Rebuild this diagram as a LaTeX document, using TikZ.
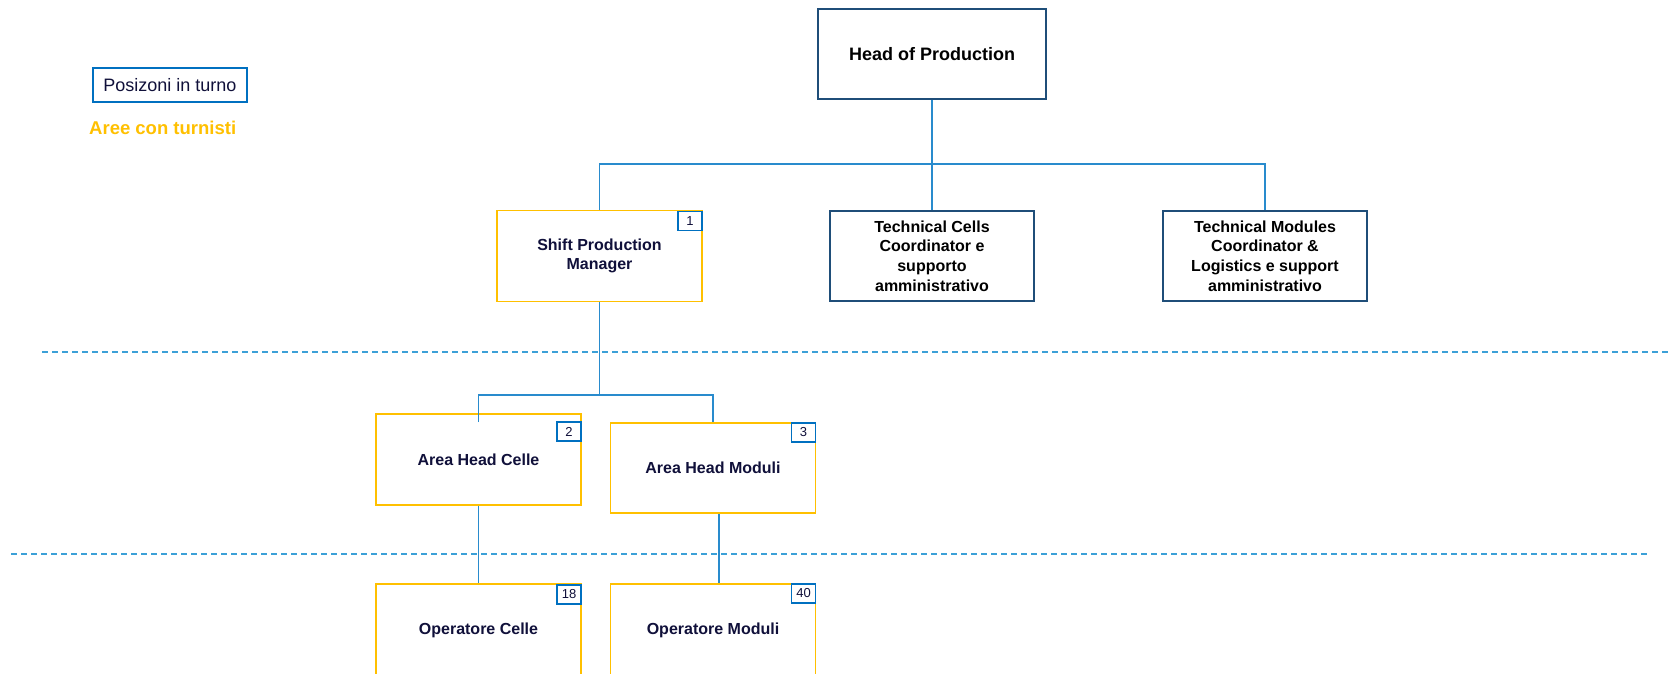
\documentclass[tikz,border=0pt]{standalone}
\usepackage{fontspec}
\setmainfont{Liberation Sans}
\definecolor{linkblue}{RGB}{41,139,205}
\definecolor{dashblue}{RGB}{60,160,215}
\definecolor{frameblue}{RGB}{31,78,121}
\definecolor{badgeblue}{RGB}{0,112,192}
\definecolor{shiftorange}{RGB}{255,192,0}
\definecolor{navytext}{RGB}{16,16,58}
\tikzset{
  mgrbox/.style={draw=frameblue, line width=1.8pt, fill=white, inner sep=0pt,
    minimum width=204pt, minimum height=90pt, align=center, text=black,
    font=\fontsize{16}{19.6}\selectfont\bfseries},
  shiftbox/.style={draw=shiftorange, line width=1.8pt, fill=white, inner sep=0pt,
    minimum width=205pt, minimum height=91pt, align=center, text=navytext,
    font=\fontsize{16}{19.4}\selectfont\bfseries},
  badge/.style={draw=badgeblue, line width=1.8pt, fill=white, inner sep=0pt,
    minimum width=24pt, minimum height=19pt, anchor=north east, text=navytext,
    font=\fontsize{13}{15}\selectfont},
  link/.style={draw=linkblue, line width=1.8pt},
  dashline/.style={draw=dashblue, line width=1.6pt, dash pattern=on 6pt off 4pt}
}
\begin{document}
\begin{tikzpicture}[x=1pt,y=-1pt]
\clip (0,0) rectangle (1670,674);
\fill[white] (0,0) rectangle (1670,674);

% legend
\node[draw=badgeblue, line width=1.6pt, inner sep=0pt, minimum width=154pt, minimum height=34pt,
  text=navytext, font=\fontsize{18}{20}\selectfont] (legend) at (170,85) {Posizoni in turno};
\node[anchor=base west, inner sep=0pt, text=shiftorange, font=\fontsize{18.5}{20}\selectfont\bfseries]
  (areelbl) at (89,135) {Aree con turnisti};

% dashed separators
\coordinate (d1a) at (42,352);
\coordinate (d1b) at (1670,352);
\coordinate (d2a) at (11,554);
\coordinate (d2b) at (1650,554);
\draw[dashline] (d1a) -- (d1b);
\draw[dashline] (d2a) -- (d2b);

% level 0
\node[mgrbox, minimum width=228pt, font=\fontsize{18}{21}\selectfont\bfseries] (hop) at (932,54) {Head of Production};

% level 1
\node[shiftbox] (spm) at (599.5,256) {Shift Production\\Manager};
\node[mgrbox] (tcc) at (932,256) {Technical Cells\\Coordinator e\\supporto\\amministrativo};
\node[mgrbox] (tmc) at (1265,256) {Technical Modules\\Coordinator \&\\Logistics e support\\amministrativo};

% level 2
\node[shiftbox, minimum height=91pt] (ahc) at (478.5,459.5) {Area Head Celle};
\node[shiftbox, minimum height=90pt] (ahm) at (713,468) {Area Head Moduli};

% level 3
\node[shiftbox, minimum height=92pt] (opc) at (478.5,630) {Operatore Celle};
\node[shiftbox, minimum height=92pt] (opm) at (713,630) {Operatore Moduli};

% badges
\node[badge] (b1) at ([yshift=-1pt]spm.north east) {1};
\node[badge] (b2) at ([yshift=-8pt]ahc.north east) {2};
\node[badge] (b3) at (ahm.north east) {3};
\node[badge] (b18) at ([yshift=-1pt]opc.north east) {18};
\node[badge] (b40) at (opm.north east) {40};

% connectors
\coordinate (bus1) at (932,164);
\coordinate (bus2) at (599.5,395);
\draw[link] (hop.south) -- (tcc.north);
\draw[link] (spm.north) |- (bus1) -| (tmc.north);
\draw[link] (spm.south) -- (bus2);
\draw[link] ([yshift=-9pt]ahc.north) |- (bus2) -| (ahm.north);
\draw[link] (ahc.south) -- (opc.north);
\draw[link] ([xshift=6pt]ahm.south) -- ([xshift=6pt]opm.north);
\end{tikzpicture}
\end{document}
